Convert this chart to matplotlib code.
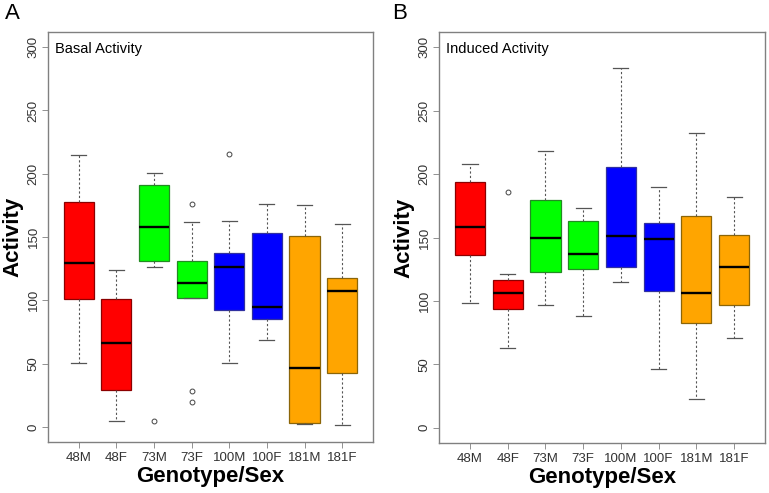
import matplotlib
matplotlib.use("Agg")
import matplotlib.pyplot as plt

plt.rcParams['font.family'] = ['Liberation Sans', 'DejaVu Sans']

groups = ["48M", "48F", "73M", "73F", "100M", "100F", "181M", "181F"]
colors = ["#FF0000", "#FF0000", "#00FF00", "#00FF00", "#0000FF", "#0000FF", "#FFA500", "#FFA500"]
edges = ["#8B0000", "#8B0000", "#228B22", "#228B22", "#3030A0", "#3030A0", "#8B6508", "#8B6508"]

# basal activity: whisker low, q1, median, q3, whisker high, outliers
basal_lo = [50.5, 4.7, 126, 102, 50.5, 69, 2.6, 1.3]
basal_q1 = [100.8, 29, 131, 102, 92, 85.5, 3, 42.6]
basal_med = [129.7, 66, 158, 114, 126, 95, 46.6, 107]
basal_q3 = [178, 101, 191, 131, 137, 153, 151, 118]
basal_hi = [215, 124, 201, 162, 163, 176, 175, 160]
basal_fl = [[], [], [5], [176, 28.7, 20], [216], [], [], []]

# induced activity
ind_lo = [98.7, 62.8, 96.6, 88, 115, 46.3, 22.8, 71]
ind_q1 = [135.9, 94, 122.8, 124.9, 127, 107.9, 82.5, 96.9]
ind_med = [158, 106, 150, 137, 151, 149, 106, 126.4]
ind_q3 = [193.7, 116.8, 179.8, 162.7, 205.8, 161.7, 166.6, 151.7]
ind_hi = [207.6, 121, 218.6, 173.5, 283.7, 189.8, 232.7, 181.9]
ind_fl = [[], [185.8], [], [], [], [], [], []]

frame_col = "#808080"


def panel(ax, lo, q1, med, q3, hi, fl, title):
    stats = []
    for i in range(len(groups)):
        stats.append(dict(label=groups[i], whislo=lo[i], q1=q1[i], med=med[i],
                          q3=q3[i], whishi=hi[i], fliers=fl[i]))
    bp = ax.bxp(stats, positions=range(1, 9), widths=0.8, patch_artist=True,
                whiskerprops=dict(color="#555555", linestyle=(0, (2, 2)), linewidth=0.8),
                capprops=dict(color="#555555", linewidth=0.9),
                medianprops=dict(color="black", linewidth=1.7),
                flierprops=dict(marker="o", markersize=3.5, markerfacecolor="none",
                                markeredgecolor="#444444", markeredgewidth=0.7))
    for i, b in enumerate(bp["boxes"]):
        b.set_facecolor(colors[i])
        b.set_edgecolor(edges[i])
        b.set_linewidth(0.9)
    for c in bp["caps"]:
        x0, x1 = c.get_xdata()
        m = (x0 + x1) / 2
        c.set_xdata([m - 0.2, m + 0.2])
    ax.set_xlim(0.18, 8.82)
    ax.set_ylim(-12, 312)
    ax.set_yticks([0, 50, 100, 150, 200, 250, 300])
    ax.tick_params(axis="y", labelrotation=90, labelsize=9.5, colors="#333333",
                   length=4, width=0.6, pad=2)
    for t in ax.get_yticklabels():
        t.set_va("center")
    ax.tick_params(axis="x", labelsize=9.5, length=4, width=0.6, colors="#333333")
    ax.tick_params(color=frame_col)
    for s in ax.spines.values():
        s.set_color(frame_col)
        s.set_linewidth(1.0)
    ax.set_xlabel("Genotype/Sex", fontsize=16, fontweight="bold", labelpad=1)
    ax.set_ylabel("Activity", fontsize=16, fontweight="bold", labelpad=3)
    ax.text(0.022, 0.975, title, transform=ax.transAxes, fontsize=10.5, va="top", ha="left")


fig = plt.figure(figsize=(7.69, 4.93), dpi=100)
ax1 = fig.add_axes([0.0624, 0.1034, 0.4226, 0.8316])
ax2 = fig.add_axes([0.5709, 0.1014, 0.4239, 0.8336])
panel(ax1, basal_lo, basal_q1, basal_med, basal_q3, basal_hi, basal_fl, "Basal Activity")
panel(ax2, ind_lo, ind_q1, ind_med, ind_q3, ind_hi, ind_fl, "Induced Activity")
fig.text(5 / 769, 1 - 3 / 493, "A", fontsize=16, va="top", ha="left")
fig.text(392 / 769, 1 - 3 / 493, "B", fontsize=16, va="top", ha="left")

fig.savefig("out.png", dpi=100)
